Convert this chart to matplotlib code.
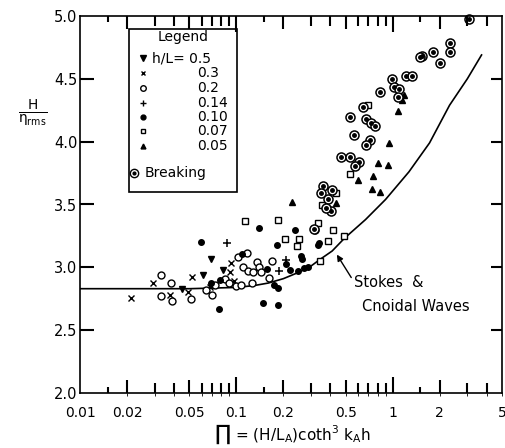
import numpy as np
import matplotlib.pyplot as plt
from matplotlib.patches import Rectangle

# h/L = 0.5  (down triangles)
pi_05 = [0.045, 0.0612, 0.0686, 0.0822]
r_05 = [2.83, 2.94, 3.07, 2.975]
# h/L = 0.3  (crosses)
pi_03 = [0.0211, 0.0291, 0.0375, 0.0491, 0.0524, 0.0676, 0.092, 0.0906, 0.097]
r_03 = [2.754, 2.878, 2.78, 2.80, 2.926, 2.846, 3.033, 2.966, 2.89]
# h/L = 0.2  (open circles)
pi_02 = [0.0332, 0.0381, 0.0330, 0.0388, 0.0516, 0.0637, 0.0699, 0.0734, 0.0842,
         0.0897, 0.099, 0.1065, 0.1023, 0.1175, 0.110, 0.1186, 0.1276, 0.135,
         0.139, 0.1445, 0.126, 0.1687, 0.161, 0.32]
r_02 = [2.94, 2.878, 2.772, 2.735, 2.746, 2.82, 2.78, 2.86, 2.905,
        2.874, 2.855, 2.86, 3.085, 3.117, 3.0, 2.974, 2.96, 3.043,
        3.0, 2.966, 2.878, 3.051, 2.918, 3.30]
# h/L = 0.14  (plus)
pi_014 = [0.0871, 0.187, 0.208]
r_014 = [3.197, 2.97, 3.06]
# h/L = 0.10  (filled circles)
pi_010 = [0.0598, 0.0693, 0.0771, 0.0782, 0.108, 0.139, 0.238, 0.183, 0.332, 0.338,
          0.157, 0.173, 0.185, 0.149, 0.186, 0.208, 0.221, 0.248, 0.269, 0.286,
          0.26, 0.262]
r_010 = [3.20, 2.878, 2.667, 2.90, 3.11, 3.316, 3.298, 3.18, 3.18, 3.197,
         2.99, 2.86, 2.834, 2.72, 2.70, 3.025, 2.98, 2.974, 2.998, 3.006,
         3.09, 3.067]
# h/L = 0.07  (open squares)
pi_007 = [0.114, 0.186, 0.335, 0.206, 0.25, 0.244, 0.384, 0.344, 0.491, 0.414,
          0.536, 0.432, 0.351, 0.698]
r_007 = [3.369, 3.377, 3.35, 3.226, 3.226, 3.17, 3.21, 3.051, 3.25, 3.298,
         3.743, 3.59, 3.497, 4.292]
# h/L = 0.05  (filled triangles)
pi_005 = [0.80, 0.929, 0.597, 0.752, 0.733, 0.834, 0.435, 1.186, 1.146, 1.086,
          0.951, 0.226]
r_005 = [3.83, 3.815, 3.695, 3.727, 3.624, 3.60, 3.515, 4.372, 4.332, 4.247,
         3.987, 3.523]
# breaking waves
pi_br = [0.357, 0.41, 0.348, 0.384, 0.404, 0.375, 0.316, 0.984, 1.216, 1.328,
         0.83, 1.023, 1.10, 1.074, 0.643, 0.536, 0.676, 0.727, 0.774, 0.569,
         0.716, 0.676, 0.468, 0.534, 0.605, 0.577, 3.08, 2.33, 2.32, 1.80,
         1.55, 1.49, 2.0]
r_br = [3.648, 3.616, 3.59, 3.542, 3.45, 3.47, 3.305, 4.499, 4.525, 4.525,
        4.393, 4.438, 4.417, 4.353, 4.274, 4.199, 4.178, 4.146, 4.125, 4.053,
        4.014, 3.974, 3.88, 3.88, 3.84, 3.807, 4.98, 4.788, 4.711, 4.716,
        4.682, 4.671, 4.628]

# Stokes & cnoidal theory curve
pi_th = [0.01, 0.05, 0.1, 0.13, 0.16, 0.2, 0.25, 0.3, 0.34, 0.41, 0.49, 0.67,
         0.9, 1.27, 1.72, 2.31, 3.0, 3.7]
r_th = [2.83, 2.83, 2.84, 2.855, 2.875, 2.91, 2.96, 3.01, 3.06, 3.13, 3.23, 3.38,
        3.54, 3.76, 3.99, 4.29, 4.50, 4.69]

xticks = [0.015, 0.02, 0.03, 0.04, 0.05, 0.06, 0.07, 0.08, 0.09, 0.1, 0.15,
          0.2, 0.3, 0.4, 0.5, 0.6, 0.7, 0.8, 0.9, 1, 1.5, 2, 3, 4]
xlabels = ['0.01', '0.02', '0.05', '0.1', '0.2', '0.5', '1', '2', '5']
xlabel_pos = [0.01, 0.02, 0.05, 0.1, 0.2, 0.5, 1, 2, 5]
yticks = [2.0, 2.5, 3.0, 3.5, 4.0, 4.5, 5.0]

legend_vals = ['0.3', '0.2', '0.14', '0.10', '0.07', '0.05']

plt.rcParams['font.family'] = 'DejaVu Sans'
plt.rcParams['mathtext.default'] = 'regular'
fig = plt.figure(figsize=(5.06, 4.48), dpi=100)
rect = [80/506, 1-393/448, 422/506, 377/448]
ax = fig.add_axes(rect)

ax.plot(pi_th, r_th, 'k-', lw=1.2)

ms = dict(color='k', ls='none')
ax.plot(pi_05, r_05, marker='v', ms=5, **ms)
ax.plot(pi_03, r_03, marker='x', ms=4, mew=1, **ms)
ax.plot(pi_02, r_02, marker='o', ms=5, mfc='white', mew=1, **ms)
ax.plot(pi_014, r_014, marker='+', ms=6, mew=1.1, **ms)
ax.plot(pi_010, r_010, marker='o', ms=4, **ms)
ax.plot(pi_007, r_007, marker='s', ms=5, mfc='white', mew=1, **ms)
ax.plot(pi_005, r_005, marker='^', ms=5, **ms)
ax.plot(pi_br, r_br, marker='o', ms=6.5, mfc='white', mew=1.1, clip_on=False, **ms)
ax.plot(pi_br, r_br, marker='o', ms=2.5, clip_on=False, **ms)

ax.set_xscale('log')
ax.set_xlim(0.01, 5)
ax.set_ylim(2.0, 5.0)
ax.set_xticks(xlabel_pos)
ax.set_xticklabels(xlabels)
ax.xaxis.set_minor_locator(plt.NullLocator())
ax.set_yticks(yticks)
ax.set_yticklabels(['%.1f' % v for v in yticks])
ax.tick_params(axis='x', length=0, labelsize=10, pad=9)
ax.tick_params(axis='y', length=0, labelsize=10.5, pad=2)
for s in ax.spines.values():
    s.set_linewidth(1.2)

# tick marks on a transparent overlay, lengths vary like the printed scale
tick_len = []
for t in xticks:
    if t in (0.1, 1):
        tick_len.append(16)
    elif t in (0.02, 0.05, 0.2, 0.5, 2):
        tick_len.append(13)
    elif t in (0.015, 0.15, 1.5):
        tick_len.append(6)
    else:
        tick_len.append(10)
tick_len = np.array(tick_len) / 377
ov = fig.add_axes(rect, frameon=False, zorder=10)
ov.set_xscale('log')
ov.set_xlim(0.01, 5)
ov.set_ylim(2.0, 5.0)
ov.patch.set_alpha(0)
ov.set_xticks([])
ov.set_yticks([])
xt = ov.get_xaxis_transform()
ov.vlines(xticks, 0, tick_len, transform=xt, colors='k', lw=1.5)
ov.vlines(xticks, 1 - tick_len, 1, transform=xt, colors='k', lw=1.5)
yt = ov.get_yaxis_transform()
ov.hlines(yticks[1:-1], 0, 14/422, transform=yt, colors='k', lw=1.5)
ov.hlines(yticks[1:-1], 1 - 11/422, 1, transform=yt, colors='k', lw=1.5)

ax.annotate('', xy=(0.43, 3.12), xytext=(0.555, 2.90),
            arrowprops=dict(arrowstyle='-|>', color='k', lw=1, mutation_scale=9))
ax.text(0.566, 2.876, 'Stokes  &', fontsize=10.5, va='center', ha='left')
ax.text(0.64, 2.685, 'Cnoidal Waves', fontsize=10.5, va='center', ha='left')

# hand-drawn legend box
def ax_x(px):
    return (px - 80) / 422

def ax_y(py):
    return (393 - py) / 377

ax.add_patch(Rectangle((ax_x(129), ax_y(192)), ax_x(237) - ax_x(129),
                       ax_y(29) - ax_y(192), transform=ax.transAxes,
                       fill=False, lw=1.2, color='k'))
ax.text(ax_x(183), ax_y(37), 'Legend', transform=ax.transAxes, fontsize=10,
        ha='center', va='center')
rows = [58, 73, 88, 103, 117, 131, 146]
marks = [('v', 'k', 4), ('x', 'k', 3), ('o', 'white', 4), ('+', 'k', 5),
         ('o', 'k', 3.5), ('s', 'white', 3.5), ('^', 'k', 3.5)]
for py, (m, fc, s) in zip(rows, marks):
    ax.plot([ax_x(143)], [ax_y(py)], marker=m, mfc=fc, mec='k', color='k', ms=s,
            mew=1, transform=ax.transAxes, clip_on=False)
ax.text(ax_x(152), ax_y(58), 'h/L= 0.5', transform=ax.transAxes, fontsize=10,
        ha='left', va='center')
for py, lab in zip(rows[1:], legend_vals):
    ax.text(ax_x(197), ax_y(py), lab, transform=ax.transAxes, fontsize=10,
            ha='left', va='center')
ax.plot([ax_x(134)], [ax_y(173)], marker='o', ms=6, mfc='white', mec='k',
        mew=1, transform=ax.transAxes)
ax.plot([ax_x(134)], [ax_y(173)], marker='o', ms=2, color='k',
        transform=ax.transAxes)
ax.text(ax_x(145), ax_y(173), 'Breaking', transform=ax.transAxes, fontsize=10,
        ha='left', va='center')

fig.text(33/506, 1-113/448, r'$\frac{H}{\eta_{rms}}$', fontsize=14,
         ha='center', va='center')
fig.text(292/506, 1-434/448, r'$\prod$ = (H/L$_A$)coth$^3$ k$_A$h',
         fontsize=11, ha='center', va='center')

fig.savefig('out.png', dpi=100)
